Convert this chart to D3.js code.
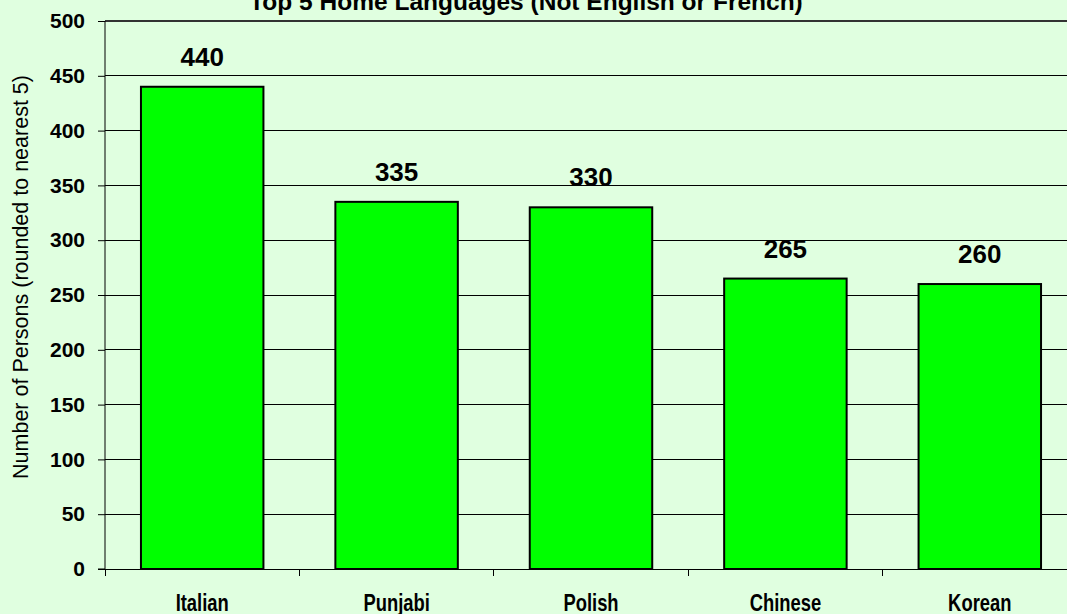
<!DOCTYPE html>
<html><head><meta charset="utf-8">
<script src="https://cdn.jsdelivr.net/npm/d3@7"></script>
<style>body{margin:0;background:#e0ffe0;overflow:hidden}</style>
</head><body>
<svg id="chart" width="1067" height="614"></svg>
<script>
const categories = ["Italian", "Punjabi", "Polish", "Chinese", "Korean"];
const values = [440, 335, 330, 265, 260];
const yTicks = [0, 50, 100, 150, 200, 250, 300, 350, 400, 450, 500];
const title = "Top 5 Home Languages (Not English or French)";
const yTitle = "Number of Persons (rounded to nearest 5)";

(function () {
const svg = d3.select("#chart");
const W = 1067, H = 614;
const mLeft = 105, mTop = 21, mBottom = 569;
const mRight = mLeft + 5 * 194.4;

svg.append("rect").attr("width", W).attr("height", H).attr("fill", "#e0ffe0");

const x = d3.scaleBand().domain(categories).range([mLeft, mRight]).paddingInner(0.37).paddingOuter(0.185);
const y = d3.scaleLinear().domain([0, 500]).range([mBottom, mTop]);

// gridlines
svg.append("g").selectAll("line").data(yTicks.filter(d => d > 0)).join("line")
  .attr("x1", mLeft).attr("x2", W).attr("y1", d => y(d)).attr("y2", d => y(d))
  .attr("stroke", d => d === 500 ? "#333" : "#000").attr("stroke-width", d => d === 500 ? 2 : 1)
  .attr("shape-rendering", "crispEdges");

// bars
svg.append("g").selectAll("rect").data(values).join("rect")
  .attr("x", (d, i) => x(categories[i]))
  .attr("y", d => y(d))
  .attr("width", x.bandwidth())
  .attr("height", d => y(0) - y(d))
  .attr("fill", "#00ff00").attr("stroke", "#000").attr("stroke-width", 2);

// value labels
svg.append("g").selectAll("text").data(values).join("text")
  .attr("x", (d, i) => x(categories[i]) + x.bandwidth() / 2)
  .attr("y", d => y(d) - 21)
  .attr("text-anchor", "middle")
  .attr("font-family", "Liberation Sans, Arial, sans-serif")
  .attr("font-weight", "bold").attr("font-size", 26).attr("fill", "#000")
  .text(d => d);

// y axis
const yAxis = d3.axisLeft(y).tickValues(yTicks).tickSize(7).tickPadding(13).tickFormat(d3.format("d"));
const yg = svg.append("g").attr("transform", `translate(${mLeft},0)`).call(yAxis);
yg.select(".domain").attr("stroke", "#000").attr("stroke-width", 1).attr("d", `M-7,${mBottom}H0V${mTop}`);
yg.selectAll(".tick line").attr("stroke", "#000");
yg.selectAll("text").attr("font-family", "Liberation Sans, Arial, sans-serif")
  .attr("font-weight", "bold").attr("font-size", 21).attr("fill", "#000");

// x axis
const xb = d3.scaleLinear().domain([0, 5]).range([mLeft, mRight]);
const xg = svg.append("g");
xg.append("line").attr("x1", mLeft).attr("x2", W).attr("y1", mBottom).attr("y2", mBottom)
  .attr("stroke", "#000").attr("stroke-width", 1).attr("shape-rendering", "crispEdges");
xg.selectAll("line.tk").data(d3.range(0, 6)).join("line").attr("class", "tk")
  .attr("x1", d => xb(d)).attr("x2", d => xb(d)).attr("y1", mBottom).attr("y2", mBottom + 7)
  .attr("stroke", "#000").attr("shape-rendering", "crispEdges");
xg.selectAll("text").data(categories).join("text")
  .attr("transform", d => `translate(${x(d) + x.bandwidth() / 2},611) scale(0.8,1)`)
  .attr("text-anchor", "middle")
  .attr("font-family", "Liberation Sans, Arial, sans-serif")
  .attr("font-weight", "bold").attr("font-size", 23).attr("fill", "#000")
  .text(d => d);

// title
svg.append("text").attr("x", 526).attr("y", 10).attr("text-anchor", "middle")
  .attr("font-family", "Liberation Sans, Arial, sans-serif")
  .attr("font-weight", "bold").attr("font-size", 24.5).attr("fill", "#000")
  .text(title);

// y title
svg.append("text").attr("transform", `translate(28,277) rotate(-90)`)
  .attr("text-anchor", "middle")
  .attr("font-family", "Liberation Sans, Arial, sans-serif")
  .attr("font-size", 21.5).attr("fill", "#000")
  .text(yTitle);
})();
</script>
</body></html>
